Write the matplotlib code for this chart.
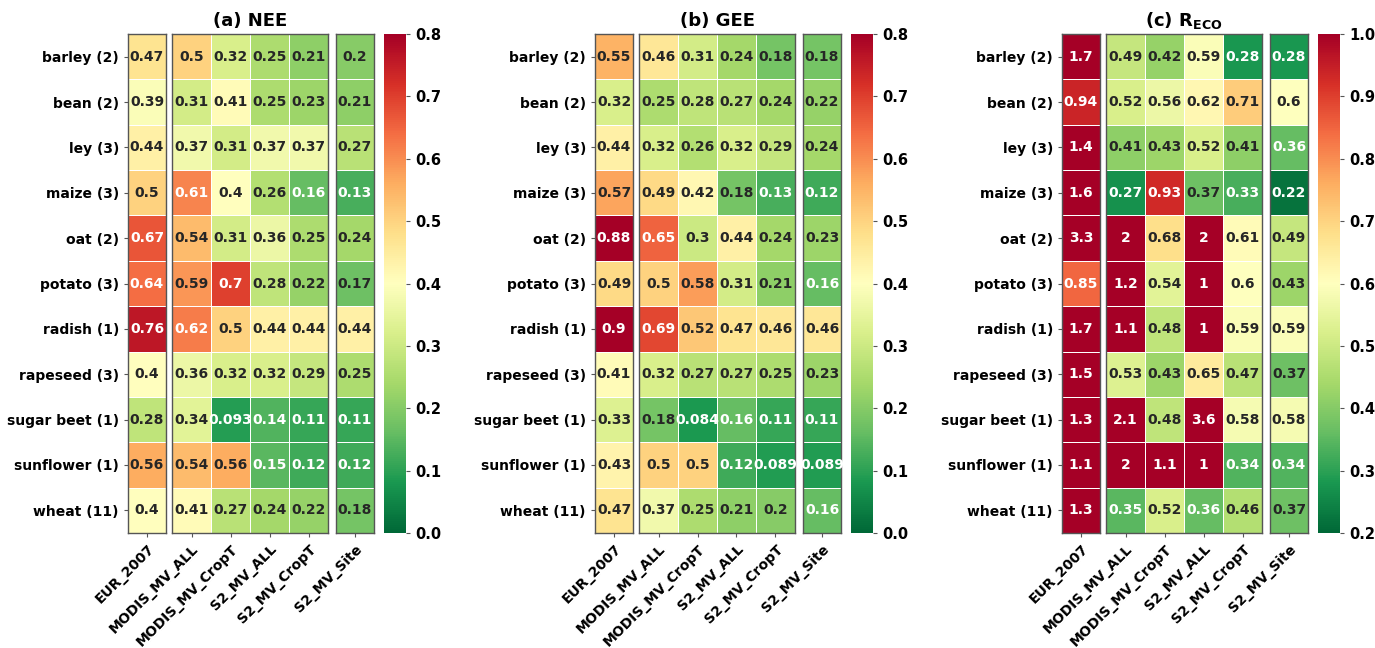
import numpy as np
import matplotlib
matplotlib.use('Agg')
import matplotlib.pyplot as plt
from matplotlib.colors import Normalize, to_rgb
from matplotlib.cm import ScalarMappable

plt.rcParams['font.family'] = ['DejaVu Sans']
plt.rcParams['font.weight'] = 'bold'

crops = ['barley (2)', 'bean (2)', 'ley (3)', 'maize (3)', 'oat (2)', 'potato (3)',
         'radish (1)', 'rapeseed (3)', 'sugar beet (1)', 'sunflower (1)', 'wheat (11)']
methods = ['EUR_2007', 'MODIS_MV_ALL', 'MODIS_MV_CropT', 'S2_MV_ALL', 'S2_MV_CropT', 'S2_MV_Site']

# NEE
nee_eur2007 = [0.47, 0.39, 0.44, 0.5, 0.67, 0.64, 0.76, 0.4, 0.28, 0.56, 0.4]
nee_modis_all = [0.5, 0.31, 0.37, 0.61, 0.54, 0.59, 0.62, 0.36, 0.34, 0.54, 0.41]
nee_modis_cropt = [0.32, 0.41, 0.31, 0.4, 0.31, 0.7, 0.5, 0.32, 0.093, 0.56, 0.27]
nee_s2_all = [0.25, 0.25, 0.37, 0.26, 0.36, 0.28, 0.44, 0.32, 0.14, 0.15, 0.24]
nee_s2_cropt = [0.21, 0.23, 0.37, 0.16, 0.25, 0.22, 0.44, 0.29, 0.11, 0.12, 0.22]
nee_s2_site = [0.2, 0.21, 0.27, 0.13, 0.24, 0.17, 0.44, 0.25, 0.11, 0.12, 0.18]

# GEE
gee_eur2007 = [0.55, 0.32, 0.44, 0.57, 0.88, 0.49, 0.9, 0.41, 0.33, 0.43, 0.47]
gee_modis_all = [0.46, 0.25, 0.32, 0.49, 0.65, 0.5, 0.69, 0.32, 0.18, 0.5, 0.37]
gee_modis_cropt = [0.31, 0.28, 0.26, 0.42, 0.3, 0.58, 0.52, 0.27, 0.084, 0.5, 0.25]
gee_s2_all = [0.24, 0.27, 0.32, 0.18, 0.44, 0.31, 0.47, 0.27, 0.16, 0.12, 0.21]
gee_s2_cropt = [0.18, 0.24, 0.29, 0.13, 0.24, 0.21, 0.46, 0.25, 0.11, 0.089, 0.2]
gee_s2_site = [0.18, 0.22, 0.24, 0.12, 0.23, 0.16, 0.46, 0.23, 0.11, 0.089, 0.16]

# RECO
reco_eur2007 = [1.7, 0.94, 1.4, 1.6, 3.3, 0.85, 1.7, 1.5, 1.3, 1.1, 1.3]
reco_modis_all = [0.49, 0.52, 0.41, 0.27, 2, 1.2, 1.1, 0.53, 2.1, 2, 0.35]
reco_modis_cropt = [0.42, 0.56, 0.43, 0.93, 0.68, 0.54, 0.48, 0.43, 0.48, 1.1, 0.52]
reco_s2_all = [0.59, 0.62, 0.52, 0.37, 2, 1, 1, 0.65, 3.6, 1, 0.36]
reco_s2_cropt = [0.28, 0.71, 0.41, 0.33, 0.61, 0.6, 0.59, 0.47, 0.58, 0.34, 0.46]
reco_s2_site = [0.28, 0.6, 0.36, 0.22, 0.49, 0.43, 0.59, 0.37, 0.58, 0.34, 0.37]

panels = [
    dict(title=r'(a) NEE', vmin=0.0, vmax=0.8,
         ticks=[0.0, 0.1, 0.2, 0.3, 0.4, 0.5, 0.6, 0.7, 0.8],
         cols=[nee_eur2007, nee_modis_all, nee_modis_cropt, nee_s2_all, nee_s2_cropt, nee_s2_site]),
    dict(title=r'(b) GEE', vmin=0.0, vmax=0.8,
         ticks=[0.0, 0.1, 0.2, 0.3, 0.4, 0.5, 0.6, 0.7, 0.8],
         cols=[gee_eur2007, gee_modis_all, gee_modis_cropt, gee_s2_all, gee_s2_cropt, gee_s2_site]),
    dict(title=r'(c) $\mathbf{R_{ECO}}$', vmin=0.2, vmax=1.0,
         ticks=[0.2, 0.3, 0.4, 0.5, 0.6, 0.7, 0.8, 0.9, 1.0],
         cols=[reco_eur2007, reco_modis_all, reco_modis_cropt, reco_s2_all, reco_s2_cropt, reco_s2_site]),
]

W, H = 1375, 648
fig = plt.figure(figsize=(W / 100, H / 100), dpi=100)
cmap = plt.get_cmap('RdYlGn_r')

def rel_lum(c):
    rgb = np.array(to_rgb(c))
    rgb = np.where(rgb <= .03928, rgb / 12.92, ((rgb + .055) / 1.055) ** 2.4)
    return rgb.dot([.2126, .7152, .0722])

groups = [[0], [1, 2, 3, 4], [5]]
rel_x = [(0, 38), (44, 200), (208, 246)]
cbar_rel = (256, 278)
offsets = [128, 595, 1062]
top_px, bot_px = 34, 533

def fbox(x0, x1):
    return [x0 / W, 1 - bot_px / H, (x1 - x0) / W, (bot_px - top_px) / H]

fs = 10
for p, off in zip(panels, offsets):
    data = np.array(p['cols']).T  # rows=crops, cols=methods
    norm = Normalize(p['vmin'], p['vmax'])
    for gi, (g, (rx0, rx1)) in enumerate(zip(groups, rel_x)):
        ax = fig.add_axes(fbox(off + rx0, off + rx1))
        sub = data[:, g]
        ax.pcolormesh(np.arange(len(g) + 1), np.arange(len(crops) + 1), sub,
                      cmap=cmap, norm=norm, edgecolors='white', linewidth=0.4)
        ax.set_xlim(0, len(g))
        ax.set_ylim(len(crops), 0)
        for i in range(sub.shape[0]):
            for j in range(sub.shape[1]):
                v = sub[i, j]
                col = cmap(norm(v))
                tc = '.15' if rel_lum(col) > .408 else 'w'
                ax.text(j + 0.5, i + 0.5, format(v, '.2g'), ha='center', va='center',
                        color=tc, fontsize=fs, fontweight='bold')
        ax.set_xticks(np.arange(len(g)) + 0.5)
        ax.set_xticklabels([methods[k] for k in g], rotation=45, ha='right',
                           rotation_mode='anchor', fontsize=10, fontweight='bold')
        ax.tick_params(axis='x', length=3, color='#555555')
        if gi == 0:
            ax.set_yticks(np.arange(len(crops)) + 0.5)
            ax.set_yticklabels(crops, fontsize=fs, fontweight='bold')
            ax.tick_params(axis='y', length=3, color='#555555')
        else:
            ax.set_yticks([])
        for s in ax.spines.values():
            s.set_visible(True)
            s.set_color('#555555')
            s.set_linewidth(1.0)
        if gi == 1:
            ax.set_title(p['title'], fontsize=13, fontweight='bold', pad=6)
    cax = fig.add_axes(fbox(off + cbar_rel[0], off + cbar_rel[1]))
    cb = fig.colorbar(ScalarMappable(norm=norm, cmap=cmap), cax=cax, ticks=p['ticks'])
    cb.outline.set_visible(False)
    cb.ax.set_yticklabels([f'{t:.1f}' for t in p['ticks']], fontsize=10.5, fontweight='bold')
    cb.ax.tick_params(length=3, color='#555555')

fig.savefig('out.png', dpi=100)
